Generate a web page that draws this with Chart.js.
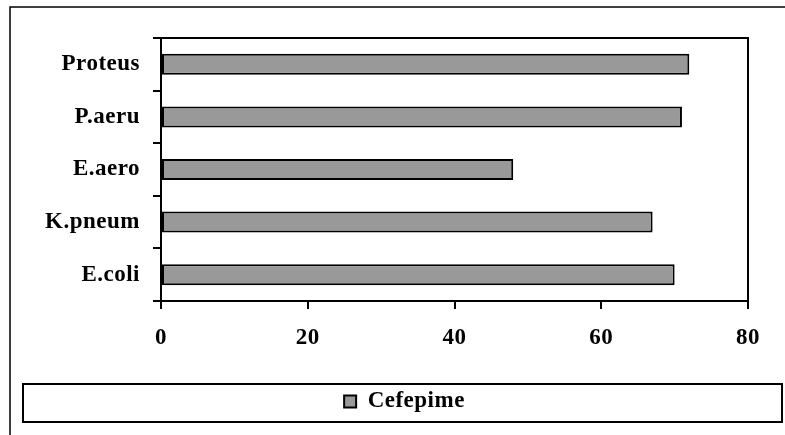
<!DOCTYPE html>
<html>
<head>
<meta charset="utf-8">
<script src="https://cdn.jsdelivr.net/npm/chart.js@4/dist/chart.umd.min.js"></script>
<style>
  html, body { margin: 0; padding: 0; background: #fff; }
  #box { width: 785px; height: 435px; }
</style>
</head>
<body>
<div id="box"><canvas id="myChart"></canvas></div>
<script>
// data
const bacteria = ["Proteus", "P.aeru", "E.aero", "K.pneum", "E.coli"];
const cefepime = [72, 71, 48, 67, 70];
const xTicks = [0, 20, 40, 60, 80];

const FONT = "'Liberation Serif', 'Times New Roman', serif";

// letter spacing like the original, plus the frames the library does not draw
const frames = {
  id: "frames",
  beforeLayout(chart) {
    chart.ctx.letterSpacing = "0.5px";
  },
  beforeDraw(chart) {
    chart.ctx.letterSpacing = "0.5px";
  },
  afterDraw(chart) {
    const ctx = chart.ctx;
    const area = chart.chartArea;
    ctx.save();
    ctx.strokeStyle = "#000";
    // outer border of the whole chart
    ctx.lineWidth = 1.5;
    ctx.strokeRect(10, 7, 800, 500);
    // plot area border
    ctx.lineWidth = 2;
    ctx.strokeRect(area.left, area.top, area.right - area.left, area.bottom - area.top);
    // legend border
    ctx.strokeRect(23, 384, 759, 38);
    ctx.restore();
  },
};

function load() {
  const ctx = document.getElementById("myChart");
  new Chart(ctx, {
    type: "bar",
    data: {
      labels: bacteria,
      datasets: [
        {
          label: "Cefepime",
          data: cefepime,
          backgroundColor: "#999999",
          borderColor: "#000",
          borderWidth: 2,
          borderSkipped: false,
          categoryPercentage: 1,
          barPercentage: 0.4,
        },
      ],
    },
    options: {
      indexAxis: "y",
      responsive: true,
      maintainAspectRatio: false,
      animation: false,
      layout: { padding: { top: 38, right: 0, left: 24, bottom: 12 } },
      plugins: {
        tooltip: { enabled: false },
        legend: {
          position: "bottom",
          labels: {
            boxWidth: 12,
            boxHeight: 12,
            padding: 10,
            color: "#000",
            font: { family: FONT, size: 23, weight: "bold" },
          },
        },
      },
      scales: {
        x: {
          min: 0,
          max: 80,
          afterBuildTicks: (scale) => {
            scale.ticks = xTicks.map((v) => ({ value: v }));
          },
          afterFit: (scale) => {
            scale.height = 79;
          },
          grid: {
            drawOnChartArea: false,
            color: "#000",
            lineWidth: 2,
            tickLength: 8,
          },
          border: { color: "#000", width: 2 },
          ticks: {
            color: "#000",
            padding: 15,
            maxRotation: 0,
            font: { family: FONT, size: 23, weight: "bold" },
          },
        },
        y: {
          afterFit: (scale) => {
            scale.width = 137;
          },
          grid: {
            drawOnChartArea: false,
            color: "#000",
            lineWidth: 2,
            tickLength: 8,
            offset: true,
          },
          border: { color: "#000", width: 2 },
          ticks: {
            color: "#000",
            padding: 13,
            font: { family: FONT, size: 23, weight: "bold" },
          },
        },
        // empty strip on the right, keeps the plot away from the edge
        yRight: {
          type: "linear",
          axis: "y",
          position: "right",
          afterFit: (scale) => {
            scale.width = 37;
          },
          grid: { display: false },
          border: { display: false },
          ticks: { display: false },
        },
      },
    },
    plugins: [frames],
  });
}

load();
</script>
</body>
</html>
